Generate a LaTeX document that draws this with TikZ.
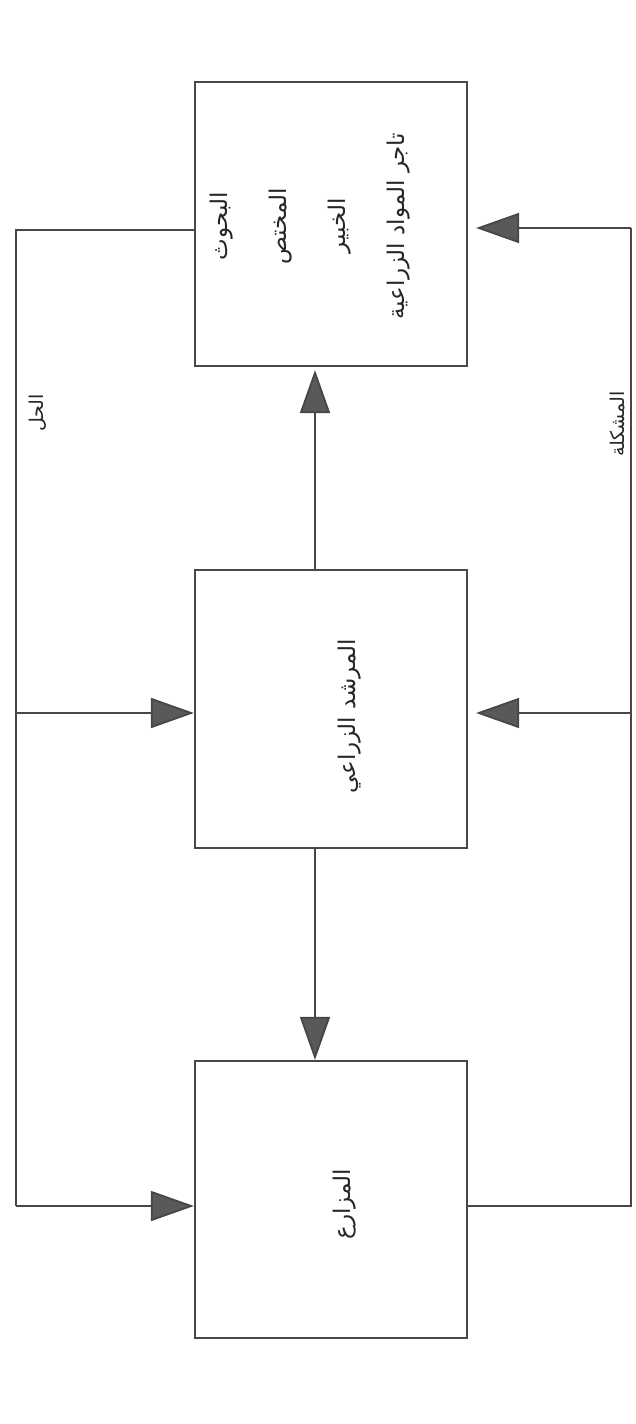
\documentclass[tikz,border=0pt]{standalone}
\usepackage{fontspec}
\newfontfamily\arabicfont[Script=Arabic]{DejaVu Sans}
\TeXXeTstate=1
\usetikzlibrary{arrows.meta}
\begin{document}
\begin{tikzpicture}[x=1pt,y=-1pt,
  box/.style={draw=black!72, line width=2.2pt, minimum width=272pt, inner sep=0pt},
  wire/.style={draw=black!72, line width=1.8pt},
  arr/.style={wire, -{Triangle[length=43pt,width=30pt,fill=black!65]}},
  lab/.style={font=\arabicfont\fontsize{19}{59}\selectfont, rotate=90, align=center, text=black!85, inner sep=0pt},
  boxlab/.style={lab, font=\arabicfont\fontsize{23}{59}\selectfont}]
\fill[white] (0,0) rectangle (636,1424);
\useasboundingbox (0,0) rectangle (636,1424);

% boxes
\node[box, minimum height=284pt] (top) at (331,224) {};
\node[box, minimum height=278pt] (mid) at (331,709) {};
\node[box, minimum height=277pt] (bot) at (331,1199.5) {};

% texts
\node[boxlab] (toptext) at (310,226) {\beginR البحوث\endR\\ \beginR المختص\endR\\ \beginR الخبير\endR\\ \beginR تاجر المواد الزراعية\endR};
\node[boxlab] (midtext) at (350,716) {\beginR المرشد الزراعي\endR};
\node[boxlab] (bottext) at (345,1204) {\beginR المزارع\endR};
\node[lab] (sol) at (38,413) {\beginR الحل\endR};
\node[lab] (prob) at (618,424) {\beginR المشكلة\endR};

% left trunk (solution)
\coordinate (la) at (16,230);
\coordinate (lb) at (16,713);
\coordinate (lc) at (16,1206);
\draw[wire] (top.west |- la) -- (la) -- (lc);
\draw[arr] (lc) -- (bot.west |- lc);
\draw[arr] (lb) -- (mid.west |- lb);

% right trunk (problem)
\coordinate (ra) at (631,228);
\coordinate (rb) at (631,713);
\coordinate (rc) at (631,1206);
\draw[wire] (bot.east |- rc) -- (rc) -- (ra);
\draw[arr, shorten >=8pt] (ra) -- (top.east |- ra);
\draw[arr, shorten >=8pt] (rb) -- (mid.east |- rb);

% middle links
\coordinate (mx) at (315,0);
\draw[arr, shorten >=3pt] (mid.north -| mx) -- (top.south -| mx);
\draw[arr] (mid.south -| mx) -- (bot.north -| mx);
\end{tikzpicture}
\end{document}
